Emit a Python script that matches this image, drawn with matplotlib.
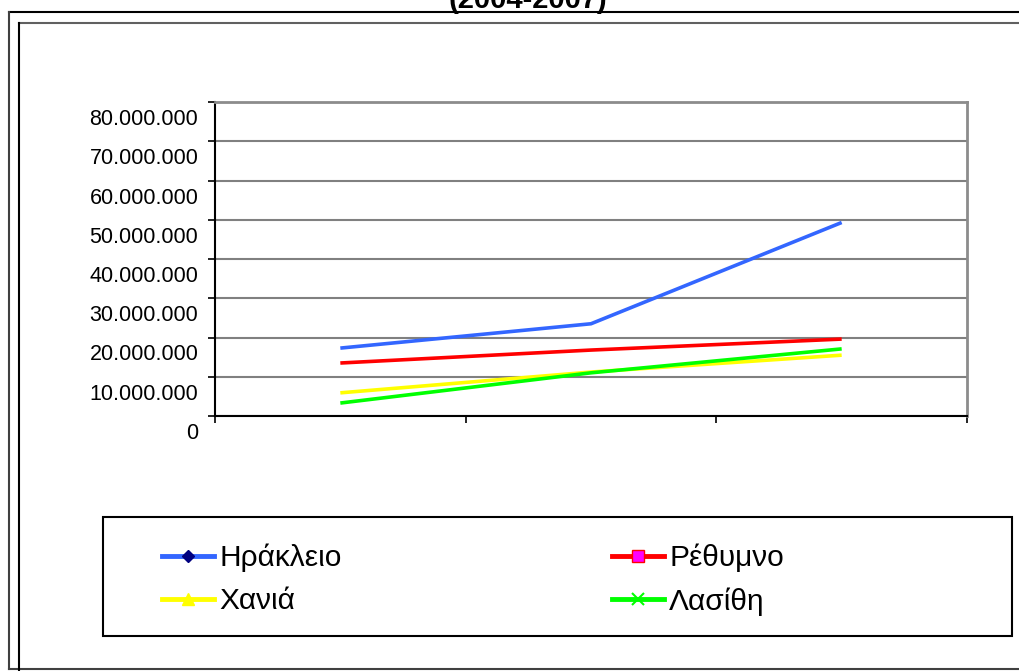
import matplotlib
matplotlib.use("Agg")
import matplotlib.pyplot as plt
from matplotlib.lines import Line2D
from matplotlib.patches import Rectangle
from matplotlib.ticker import FuncFormatter
import matplotlib.transforms as mtransforms

W, H = 1019, 671

# data
periods = ["2004-2005", "2005-2006", "2006-2007"]
heraklion = [17_300_000, 23_500_000, 49_300_000]
rethymno = [13_500_000, 16_800_000, 19_600_000]
chania = [5_900_000, 11_200_000, 15_500_000]
lasithi = [3_300_000, 11_000_000, 17_100_000]
series_names = ["Ηράκλειο", "Ρέθυμνο", "Χανιά", "Λασίθη"]
y_ticks = list(range(0, 80_000_001, 10_000_000))

BLUE = "#3366FF"
RED = "#FF0000"
YELLOW = "#FFFF00"
GREEN = "#00FF00"

plt.rcParams["font.family"] = ["Liberation Sans", "DejaVu Sans"]


def fx(x):
    return x / W


def fy(y):
    return 1 - y / H


def main() -> None:
    fig = plt.figure(figsize=(W / 100, H / 100), dpi=100)

    # outer frames
    def seg(x0, y0, x1, y1, color, lw=1.5):
        fig.add_artist(Line2D([fx(x0), fx(x1)], [fy(y0), fy(y1)],
                              transform=fig.transFigure, color=color, lw=lw))

    seg(9, 12, W, 12, "black")
    seg(9, 12, 9, 669, "#404040")
    seg(9, 669, W, 669, "#404040")
    seg(19, 23, W, 23, "#606060")
    seg(19, 23, 19, H, "black")

    # title is cut off at the top edge, as in the source picture
    fig.text(fx(528), fy(8), "(2004-2007)", ha="center", va="baseline",
             fontsize=21, fontweight="bold")

    ax = fig.add_axes([fx(215), fy(416), fx(967) - fx(215), fy(102) - fy(416)])
    x = list(range(len(periods)))
    ax.plot(x, heraklion, color=BLUE, lw=2.6, solid_capstyle="butt")
    ax.plot(x, rethymno, color=RED, lw=2.6, solid_capstyle="butt")
    ax.plot(x, chania, color=YELLOW, lw=2.6, solid_capstyle="butt")
    ax.plot(x, lasithi, color=GREEN, lw=2.6, solid_capstyle="butt")

    ax.set_xlim(-0.5, len(periods) - 0.5)
    ax.set_ylim(0, 80_000_000)
    ax.set_xticks([i - 0.5 for i in range(len(periods) + 1)])
    ax.set_xticklabels([])
    ax.set_yticks(y_ticks)
    ax.yaxis.set_major_formatter(
        FuncFormatter(lambda v, p: f"{int(v):,}".replace(",", ".")))
    ax.tick_params(axis="both", direction="out", length=5, width=1.2,
                   color="black", labelsize=15.5, pad=7)
    ax.yaxis.grid(True, color="#808080", lw=1.5)
    ax.set_axisbelow(True)
    for side in ("left", "bottom"):
        ax.spines[side].set_color("black")
        ax.spines[side].set_linewidth(1.5)
    for side in ("top", "right"):
        ax.spines[side].set_color("#8c8c8c")
        ax.spines[side].set_linewidth(2)

    offset = mtransforms.ScaledTranslation(0, -0.15, fig.dpi_scale_trans)
    for lbl in ax.get_yticklabels():
        lbl.set_transform(lbl.get_transform() + offset)

    # legend frame
    fig.add_artist(Rectangle((fx(103), fy(636)), fx(1012) - fx(103),
                             fy(517) - fy(636), transform=fig.transFigure,
                             fill=False, edgecolor="black", lw=1.5))

    handles = [
        Line2D([], [], color=BLUE, lw=3.5, marker="D", markersize=6,
               markerfacecolor="#000080", markeredgecolor="#000080"),
        Line2D([], [], color=RED, lw=3.5, marker="s", markersize=8,
               markerfacecolor="#FF00FF", markeredgecolor=RED),
        Line2D([], [], color=YELLOW, lw=3.5, marker="^", markersize=9,
               markerfacecolor=YELLOW, markeredgecolor=YELLOW),
        Line2D([], [], color=GREEN, lw=3.5, marker="x", markersize=8,
               markeredgecolor=GREEN, markeredgewidth=1.5),
    ]
    common = dict(frameon=False, loc="upper left", fontsize=21.5,
                  handlelength=1.75, handletextpad=0.17, labelspacing=0.5,
                  borderpad=0, borderaxespad=0)
    fig.legend([handles[0], handles[2]], [series_names[0], series_names[2]],
               bbox_to_anchor=(fx(162), fy(544)), **common)
    fig.legend([handles[1], handles[3]], [series_names[1], series_names[3]],
               bbox_to_anchor=(fx(612), fy(544)), **common)

    fig.savefig("out.png", dpi=100)


if __name__ == "__main__":
    main()
